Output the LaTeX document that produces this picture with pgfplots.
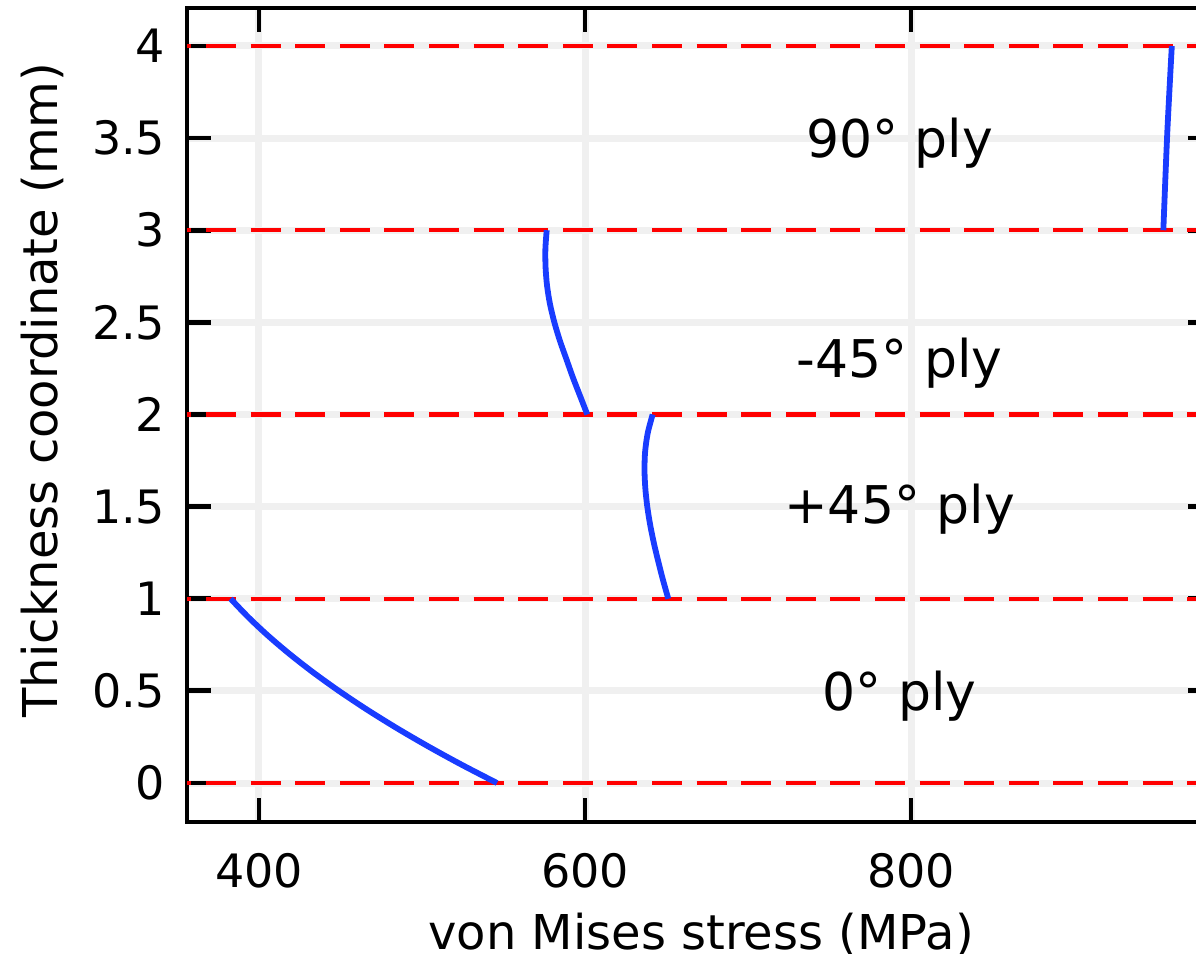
\documentclass[border=0pt]{standalone}
\usepackage{fontspec}
\setmainfont{DejaVu Sans}
\usepackage{pgfplots}
\pgfplotsset{compat=1.18}
\definecolor{curveblue}{RGB}{25,60,255}
\definecolor{gridgray}{RGB}{240,240,240}
\begin{document}
\begin{tikzpicture}
\useasboundingbox (-46.75pt,-32.75pt) rectangle (252.25pt,205.5pt);
\begin{axis}[
  at={(0pt,0pt)}, anchor=south west,
  scale only axis, width=256.25pt, height=203.5pt,
  xmin=355.83, xmax=984.66, ymin=-0.2117, ymax=4.206,
  axis line style={line width=1pt},
  every tick/.style={black, line width=1.2pt},
  major tick length=6pt, tick align=inside,
  xtick pos=both, ytick pos=both,
  xtick={400,600,800}, ytick={0,0.5,1,1.5,2,2.5,3,3.5,4},
  grid=major, major grid style={gridgray, line width=1.75pt},
  /pgf/number format/assume math mode=true,
  tick label style={font=\fontsize{11.5}{13}\selectfont},
  xticklabel style={anchor=base, yshift=-16.25pt},
  yticklabel style={anchor=east, inner sep=0pt, xshift=-5.25pt},
  xlabel={von Mises stress (MPa)},
  ylabel={Thickness coordinate (mm)},
  label style={font=\fontsize{12}{14}\selectfont},
  xlabel style={at={(axis description cs:0.5015,-0.156)}, anchor=base},
  ylabel style={at={(axis description cs:-0.1268,0.5307)}, anchor=base},
]
\pgfplotsinvokeforeach{0,1,2,3,4}{
  \addplot[red, line width=1.1pt, dash pattern=on 7.5pt off 3.65pt, dash phase=6.4pt]
    coordinates {(355.83,#1) (984.66,#1)};
}
% 0 deg ply
\addplot[curveblue, line width=1.45pt, smooth] coordinates {
 (546,0) (524.15,0.1) (503.53,0.2) (484.13,0.3) (465.95,0.4) (449.0,0.5)
 (433.27,0.6) (418.77,0.7) (405.49,0.8) (393.43,0.9) (382.6,1.0)};
% +45 deg ply
\addplot[curveblue, line width=1.45pt, smooth] coordinates {
 (651.1,1.0) (647.9,1.1) (645.0,1.2) (642.3,1.3) (640.0,1.4) (638.2,1.5)
 (637.0,1.6) (636.5,1.7) (636.9,1.8) (638.5,1.9) (641.5,2.0)};
% -45 deg ply
\addplot[curveblue, line width=1.45pt, smooth] coordinates {
 (601.4,2.0) (597.0,2.1) (592.6,2.2) (588.6,2.3) (584.6,2.4) (581.2,2.5)
 (578.5,2.6) (576.7,2.7) (575.8,2.8) (575.7,2.9) (576.5,3.0)};
% 90 deg ply
\addplot[curveblue, line width=1.45pt, smooth] coordinates {
 (954.8,3) (957.2,3.526) (960,4)};
\node[anchor=base, font=\fontsize{13}{15}\selectfont] at (axis cs:793,3.392) {90° ply};
\node[anchor=base, font=\fontsize{13}{15}\selectfont] at (axis cs:793,2.198) {-45° ply};
\node[anchor=base, font=\fontsize{13}{15}\selectfont] at (axis cs:793,1.411) {+45° ply};
\node[anchor=base, font=\fontsize{13}{15}\selectfont] at (axis cs:793,0.396) {0° ply};
\end{axis}
\end{tikzpicture}
\end{document}
